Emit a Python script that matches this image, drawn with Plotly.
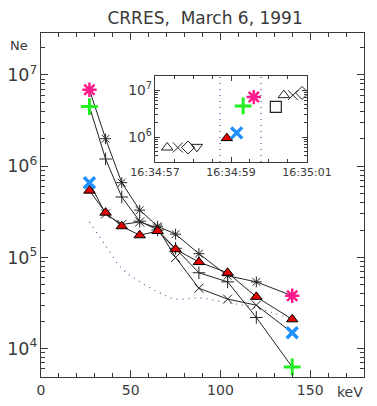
import plotly.graph_objects as go

# ---- main plot data (energy in keV, Ne) ----
energy_kev = [27, 36, 45, 55, 65, 75, 88, 104, 120, 140]
ne_star = [6.9e6, 2.0e6, 6.6e5, 3.3e5, 2.2e5, 1.8e5, 1.1e5, 6.3e4, 5.4e4, 3.8e4]
ne_plus = [4.5e6, 1.2e6, 4.6e5, 2.5e5, 2.0e5, 1.26e5, 6.8e4, 5.4e4, 2.2e4, 6.3e3]
ne_cross = [6.6e5, 3.0e5, 2.3e5, 2.45e5, 2.1e5, 1.0e5, 4.6e4, 3.5e4, 3.0e4, 1.5e4]
ne_tri = [5.4e5, 3.1e5, 2.2e5, 1.75e5, 1.95e5, 1.23e5, 8.9e4, 6.8e4, 3.7e4, 2.1e4]
ne_dotted = [2.45e5, 1.35e5, 7.6e4, 5.4e4, 4.2e4, 3.5e4, 3.6e4, 3.2e4, 2.8e4, 2.1e4]

x_tickvals = [0, 50, 100, 150]

# ---- inset data (seconds after 16:34:57, Ne) ----
inset_tick_sec = [0, 2, 4]
inset_tick_text = ["16:34:57", "16:34:59", "16:35:01"]
early_t = [0.32, 0.60, 0.87, 1.10]
early_ne = [6.0e5, 6.0e5, 6.0e5, 6.2e5]
tri_t, tri_ne = [1.89], [9.5e5]
cross_t, cross_ne = [2.15], [1.23e6]
plus_t, plus_ne = [2.32], [4.6e6]
star_t, star_ne = [2.60], [7.1e6]
square_t, square_ne = [3.18], [4.4e6]
late_t = [3.39, 3.63, 3.87]
late_ne = [7.8e6, 7.8e6, 8.7e6]
marker_lines_sec = [1.71, 2.79]

PINK = "#ff1a8c"
GREEN = "#22ee22"
BLUE = "#1e90ff"
RED = "#e00000"
LINE = "#222222"
TXT = "#3a3a3a"
DOTC = "#5a5aa0"
FONT = "DejaVu Sans"

fig = go.Figure()

# dotted curve
fig.add_trace(go.Scatter(x=energy_kev, y=ne_dotted, mode="lines",
                         line=dict(color=DOTC, width=1.2, dash="1px,5px", shape="spline"),
                         showlegend=False))


def series(ne, sym, endcolor, endsym, endsize, endwidth):
    fig.add_trace(go.Scatter(x=energy_kev, y=ne, mode="lines+markers",
                             line=dict(color=LINE, width=1),
                             marker=dict(symbol=sym, size=9, color=LINE,
                                         line=dict(color=LINE, width=1)),
                             showlegend=False))
    ends_x = [energy_kev[0], energy_kev[-1]]
    ends_y = [ne[0], ne[-1]]
    fig.add_trace(go.Scatter(x=ends_x, y=ends_y, mode="markers",
                             marker=dict(symbol=endsym, size=endsize, color=endcolor,
                                         line=dict(color=endcolor, width=endwidth)),
                             showlegend=False))


series(ne_star, "asterisk-open", PINK, "asterisk-open", 12, 2.5)
series(ne_plus, "cross-thin-open", GREEN, "cross-thin-open", 12, 3)
series(ne_cross, "x-thin-open", BLUE, "x-thin-open", 11, 3.5)

# triangle series with red filled triangles everywhere
fig.add_trace(go.Scatter(x=energy_kev, y=ne_tri, mode="lines+markers",
                         line=dict(color=LINE, width=1),
                         marker=dict(symbol="triangle-up", size=10, color=RED,
                                     line=dict(color="black", width=1)),
                         showlegend=False))

# ---- inset ----
inset_kw = dict(xaxis="x2", yaxis="y2", showlegend=False)
for sec in marker_lines_sec:
    fig.add_shape(type="line", xref="x2", yref="y2 domain", x0=sec, x1=sec, y0=0, y1=1,
                  line=dict(color=DOTC, width=1.3, dash="1px,5px"))

early_syms = ["triangle-up-open", "x-thin-open", "diamond-open", "triangle-down-open"]
fig.add_trace(go.Scatter(x=early_t, y=early_ne, mode="markers",
                         marker=dict(symbol=early_syms, size=10, color=LINE,
                                     line=dict(color=LINE, width=1)), **inset_kw))
late_syms = ["triangle-up-open", "x-thin-open", "diamond-open"]
fig.add_trace(go.Scatter(x=late_t, y=late_ne, mode="markers",
                         marker=dict(symbol=late_syms, size=10, color=LINE,
                                     line=dict(color=LINE, width=1)), **inset_kw))
fig.add_trace(go.Scatter(x=square_t, y=square_ne, mode="markers",
                         marker=dict(symbol="square-open", size=11, color=LINE,
                                     line=dict(color=LINE, width=1.2)), **inset_kw))
fig.add_trace(go.Scatter(x=tri_t, y=tri_ne, mode="markers",
                         marker=dict(symbol="triangle-up", size=10, color=RED,
                                     line=dict(color="black", width=1)), **inset_kw))
fig.add_trace(go.Scatter(x=cross_t, y=cross_ne, mode="markers",
                         marker=dict(symbol="x-thin-open", size=11, color=BLUE,
                                     line=dict(color=BLUE, width=3.5)), **inset_kw))
fig.add_trace(go.Scatter(x=plus_t, y=plus_ne, mode="markers",
                         marker=dict(symbol="cross-thin-open", size=12, color=GREEN,
                                     line=dict(color=GREEN, width=3)), **inset_kw))
fig.add_trace(go.Scatter(x=star_t, y=star_ne, mode="markers",
                         marker=dict(symbol="asterisk-open", size=12, color=PINK,
                                     line=dict(color=PINK, width=2.5)), **inset_kw))

axis_common = dict(showgrid=False, zeroline=False, showline=True, linecolor=TXT,
                   linewidth=1, mirror="allticks", ticks="inside", tickcolor=TXT,
                   automargin=False)

# page body has an 8px margin, so the figure is sized to fit the remaining area
W, H = 369, 398
fig.update_layout(
    width=W, height=H,
    margin=dict(l=33, r=13, t=25, b=29),
    paper_bgcolor="white", plot_bgcolor="white",
    font=dict(family=FONT, color=TXT, size=14),
    title=dict(text="CRRES,  March 6, 1991", x=0.508, xref="paper", xanchor="center",
               y=1 - 10 / H, yref="container", yanchor="middle",
               font=dict(family=FONT, size=17, color=TXT)),
    xaxis=dict(range=[0, 180], tickvals=x_tickvals, ticklen=7,
               minor=dict(dtick=10, ticks="inside", ticklen=4, tickcolor=TXT),
               tickfont=dict(size=14), **axis_common),
    yaxis=dict(type="log", range=[3.69, 7.46], dtick=1, exponentformat="power",
               ticklen=7, minor=dict(ticks="inside", ticklen=4, tickcolor=TXT),
               tickfont=dict(size=14), **axis_common),
    xaxis2=dict(domain=[0.353, 0.8235], anchor="y2", range=[0, 4],
                tickvals=inset_tick_sec, ticktext=inset_tick_text, ticklen=5,
                minor=dict(dtick=0.5, ticks="inside", ticklen=3, tickcolor=TXT),
                tickfont=dict(size=11), **axis_common),
    yaxis2=dict(domain=[0.625, 0.875], anchor="x2", type="log", range=[5.47, 7.30],
                dtick=1, exponentformat="power", ticklen=5,
                minor=dict(ticks="inside", ticklen=3, tickcolor=TXT),
                tickfont=dict(size=11), **axis_common),
    annotations=[
        dict(text="Ne", x=-0.068, y=0.965, xref="paper", yref="paper",
             showarrow=False, font=dict(size=13, color=TXT), xanchor="center",
             yanchor="middle"),
        dict(text="keV", x=0.957, y=-0.044, xref="paper", yref="paper",
             showarrow=False, font=dict(size=14, color=TXT), xanchor="center",
             yanchor="middle"),
    ],
)

fig.write_html("out.html")
